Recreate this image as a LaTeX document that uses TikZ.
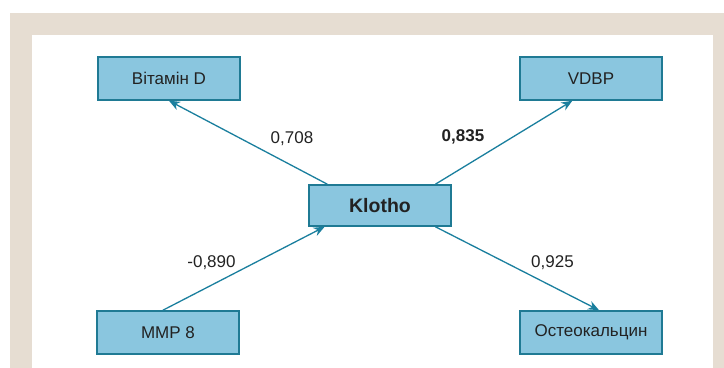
\documentclass[tikz,border=0pt]{standalone}
\usepackage{fontspec}
\setmainfont{Liberation Sans}
\usetikzlibrary{arrows.meta}
\definecolor{beige}{HTML}{E6DDD2}
\definecolor{boxfill}{HTML}{8AC6DF}
\definecolor{boxline}{HTML}{1F7A94}
\definecolor{arrline}{HTML}{1A7F9E}
\definecolor{txt}{HTML}{222222}
\begin{document}
\begin{tikzpicture}[x=0.5pt, y=-0.5pt,
    every node/.style={text=txt, font=\fontsize{8.5}{10}\selectfont},
    factor/.style={rectangle, fill=boxfill, draw=boxline, line width=0.75pt, minimum width=71pt, minimum height=21.5pt, inner sep=0pt},
    conn/.style={draw=arrline, line width=0.65pt, -{Stealth[length=5.5pt, width=4.5pt]}}]

     % Marco de fondo
     \fill[beige] (10,13) rectangle (724,368);
     \fill[white] (32,35) rectangle (713,368);
     \useasboundingbox (0,0) rectangle (724,368);

     % Factor central
     \node[factor, minimum height=20.5pt, font=\bfseries\fontsize{9.75}{11}\selectfont] (klotho) at (380,205.5) {Klotho};

     % Factores en las esquinas
     \node[factor] (vitd) at (169,78.5) {Вітамін D};
     \node[factor] (vdbp) at (591,78.5) {VDBP};
     \node[factor] (mmp) at (168,332.5) {MMP 8};
     \node[factor] (osteo) at (591,332.5) {Остеокальцин};

     % Conexiones
     \draw[conn] (klotho.158) -- (vitd.south);
     \draw[conn] (klotho.21) -- (vdbp.230);
     \draw[conn] (mmp.103) -- (klotho.201);
     \draw[conn] (klotho.339) -- (osteo.70);

     % Coeficientes
     \node (c_vitd) at (292,139) {0,708};
     \node[font=\bfseries\fontsize{8.5}{10}\selectfont] (c_vdbp) at (463,137) {0,835};
     \node (c_mmp) at (211.5,262.5) {-0,890};
     \node (c_osteo) at (552.5,262.5) {0,925};

   \end{tikzpicture}
\end{document}
